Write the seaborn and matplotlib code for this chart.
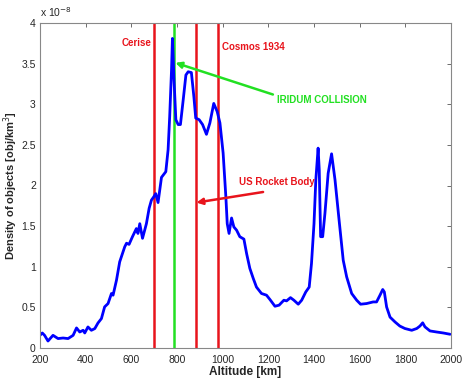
import matplotlib
matplotlib.use("Agg")
import matplotlib.pyplot as plt
import seaborn as sns
import pandas as pd

# altitude [km] and density [1e-8 obj/km^3]
altitude = [200, 210, 220, 235, 257, 279, 301, 323, 345, 360, 374, 389, 396, 410,
            425, 440, 454, 469, 483, 498, 513, 520, 535, 549, 571, 579, 590, 605,
            622, 629, 637, 649, 666, 678, 688, 698, 707, 717, 732, 751, 761, 768,
            776, 780, 787, 795, 805, 815, 827, 839, 849, 863, 874, 882, 897, 912,
            929, 944, 961, 976, 988, 1002, 1014, 1020, 1028, 1039, 1049, 1061,
            1075, 1093, 1105, 1119, 1134, 1148, 1170, 1192, 1207, 1229, 1247,
            1268, 1280, 1297, 1312, 1331, 1346, 1364, 1379, 1389, 1400, 1408,
            1418, 1423, 1429, 1438, 1448, 1462, 1477, 1492, 1510, 1528, 1543,
            1565, 1587, 1604, 1630, 1659, 1674, 1689, 1701, 1708, 1718, 1733,
            1755, 1776, 1798, 1828, 1850, 1864, 1876, 1886, 1908, 1937, 1966, 1996]
density = [0.156, 0.185, 0.156, 0.086, 0.156, 0.116, 0.123, 0.116, 0.156, 0.247,
           0.197, 0.218, 0.185, 0.259, 0.218, 0.239, 0.308, 0.362, 0.506, 0.547,
           0.671, 0.650, 0.835, 1.06, 1.245, 1.29, 1.275, 1.37, 1.47, 1.41, 1.53,
           1.35, 1.53, 1.72, 1.82, 1.86, 1.90, 1.79, 2.10, 2.17, 2.44, 2.85, 3.42,
           3.81, 3.30, 2.81, 2.75, 2.75, 3.05, 3.36, 3.40, 3.39, 3.09, 2.83, 2.81,
           2.75, 2.63, 2.77, 3.01, 2.91, 2.77, 2.40, 1.86, 1.53, 1.41, 1.60, 1.49,
           1.45, 1.37, 1.34, 1.16, 0.98, 0.856, 0.75, 0.671, 0.65, 0.597, 0.514,
           0.527, 0.588, 0.58, 0.62, 0.588, 0.539, 0.588, 0.69, 0.75, 1.04, 1.53,
           2.07, 2.46, 2.19, 1.37, 1.37, 1.66, 2.15, 2.39, 2.07, 1.57, 1.08, 0.876,
           0.671, 0.588, 0.539, 0.547, 0.567, 0.567, 0.65, 0.72, 0.69, 0.505, 0.38,
           0.32, 0.27, 0.24, 0.218, 0.24, 0.27, 0.31, 0.26, 0.21, 0.197, 0.185, 0.169]

# event altitudes
red_lines = [700, 882, 980]
green_lines = [787]

x_ticks = list(range(200, 2001, 200))
y_ticks = [0, 0.5, 1, 1.5, 2, 2.5, 3, 3.5, 4]
y_ticklabels = ["0", "0.5", "1", "1.5", "2", "2.5", "3", "3.5", "4"]

RED = "#e8141c"
GREEN = "#22e022"
BLUE = "#0000ff"

sns.set_style("white")
plt.rcParams["font.family"] = ["Liberation Sans", "DejaVu Sans"]

df = pd.DataFrame({"altitude": altitude, "density": density})

fig = plt.figure(figsize=(4.62, 3.79), dpi=100)
ax = fig.add_axes([40 / 462, 1 - 348 / 379, 411 / 462, 325 / 379])

for xv in red_lines:
    ax.axvline(xv, color=RED, lw=1.8, zorder=1)
for xv in green_lines:
    ax.axvline(xv, color=GREEN, lw=1.8, zorder=1)

sns.lineplot(data=df, x="altitude", y="density", color=BLUE, lw=2, ax=ax, zorder=2)

ax.set_xlim(200, 2000)
ax.set_ylim(0, 4)
ax.set_xticks(x_ticks)
ax.set_yticks(y_ticks)
ax.set_yticklabels(y_ticklabels)
ax.tick_params(direction="in", length=3, width=0.6, color="#555555",
               labelsize=7.5, top=True, right=True, pad=3)
ax.tick_params(axis="x", pad=5)
for s in ax.spines.values():
    s.set_color("#888888")
    s.set_linewidth(0.8)

ax.set_xlabel("Altitude [km]", fontsize=8.5, fontweight="bold", labelpad=1)
ax.set_ylabel("Density of objects [obj/km$^3$]", fontsize=8, fontweight="bold")
ax.yaxis.set_label_coords(-0.049, 0.5)
ax.text(0.0, 1.012, r"x 10$^{-8}$", transform=ax.transAxes, fontsize=7.5,
        ha="left", va="bottom")

bold = dict(fontsize=7, fontweight="bold")
ax.text(690, 3.76, "Cerise", color=RED, ha="right", va="center", **bold)
ax.text(996, 3.71, "Cosmos 1934", color=RED, ha="left", va="center", **bold)
ax.text(1237, 3.05, "IRIDUM COLLISION", color=GREEN, ha="left", va="center", **bold)
ax.text(1071, 2.04, "US Rocket Body", color=RED, ha="left", va="center", **bold)

ax.annotate("", xy=(793, 3.51), xytext=(1220, 3.12),
            arrowprops=dict(arrowstyle="-|>", color=GREEN, lw=1.8,
                            mutation_scale=9, shrinkA=0, shrinkB=0))
ax.annotate("", xy=(885, 1.79), xytext=(1177, 1.92),
            arrowprops=dict(arrowstyle="-|>", color=RED, lw=1.8,
                            mutation_scale=9, shrinkA=0, shrinkB=0))

fig.savefig("out.png", dpi=100)
